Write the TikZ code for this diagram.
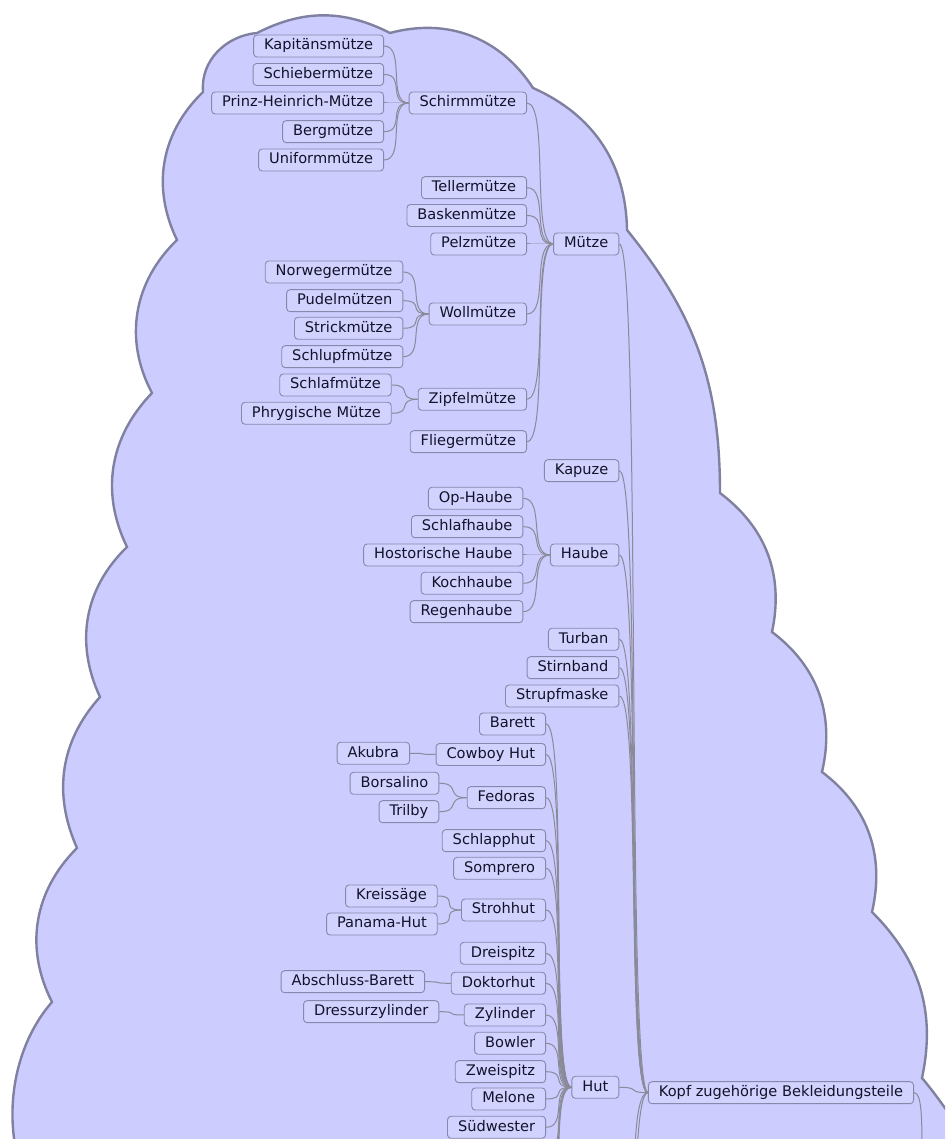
\documentclass[tikz,border=0pt]{standalone}
\usepackage{fontspec}
\setmainfont{DejaVu Sans}
\definecolor{cloudfill}{RGB}{204,204,255}
\definecolor{cloudline}{RGB}{128,128,160}
\definecolor{boxline}{RGB}{136,136,172}
\definecolor{boxfill}{RGB}{210,210,255}
\definecolor{ink}{RGB}{18,18,42}
\definecolor{linkgray}{RGB}{138,138,152}
\tikzset{
  item/.style={draw=boxline, fill=boxfill, rounded corners=3.5pt, line width=0.9pt,
    text=ink, font=\fontsize{14.6}{16}\selectfont, inner xsep=10.5pt, inner ysep=0pt,
    minimum height=22pt, text height=10.5pt, text depth=3pt, anchor=east},
  link/.style={draw=linkgray, line width=1pt},
  cloudpath/.style={fill=cloudfill, draw=cloudline, line width=2.4pt},
}
\begin{document}
\begin{tikzpicture}[x=1pt,y=1pt]
\useasboundingbox (0,0) rectangle (945,1139);
\clip (0,0) rectangle (945,1139);

% cloud around the whole branch
\path[cloudpath]
  (40,-70) to[out=124,in=229,looseness=0.9] (52,137)
  to[out=117,in=225] (77,291)
  to[out=114,in=228] (100,442)
  to[out=115,in=224] (127,592)
  to[out=116,in=226] (152,746)
  to[out=118,in=224] (177,899)
  to[out=116,in=224] (203,1047)
  to[out=95,in=185] (257,1106)
  to[out=27,in=153] (390,1106)
  to[out=15,in=123] (533,1051)
  to[out=-24,in=91] (627,909)
  to[out=-51,in=90] (720,646)
  to[out=-37,in=78] (772,507)
  to[out=-37,in=77] (822,367)
  to[out=-37,in=77] (872,227)
  to[out=-45,in=78] (922,61)
  to[out=-50,in=140] (990,-20)
  -- (990,-120) -- (30,-120) -- cycle;

% Schirmmütze branch
\node[item] (kapitaen) at (384,1093) {Kapitänsmütze};
\node[item] (schieber) at (384,1064.5) {Schiebermütze};
\node[item] (prinz) at (384,1036) {Prinz-Heinrich-Mütze};
\node[item] (berg) at (384,1007.3) {Bergmütze};
\node[item] (uniform) at (384,979) {Uniformmütze};
\node[item] (schirm) at (527,1036) {Schirmmütze};
% Mütze branch
\node[item] (teller) at (527,951.3) {Tellermütze};
\node[item] (basken) at (527,923.5) {Baskenmütze};
\node[item] (pelz) at (527,895) {Pelzmütze};
\node[item] (norweger) at (403.3,867) {Norwegermütze};
\node[item] (pudel) at (403.3,838.3) {Pudelmützen};
\node[item] (strick) at (403.3,810.7) {Strickmütze};
\node[item] (schlupf) at (403.3,782.3) {Schlupfmütze};
\node[item] (woll) at (527,825) {Wollmütze};
\node[item] (schlafm) at (391.7,754) {Schlafmütze};
\node[item] (phryg) at (391.7,725.7) {Phrygische Mütze};
\node[item] (zipfel) at (527,739.7) {Zipfelmütze};
\node[item] (flieger) at (527,697.3) {Fliegermütze};
\node[item] (muetze) at (619.3,895) {Mütze};
\node[item] (kapuze) at (619.3,668.3) {Kapuze};
% Haube branch
\node[item] (ophaube) at (523.3,640.7) {Op-Haube};
\node[item] (schlafhaube) at (523.3,612.3) {Schlafhaube};
\node[item] (histhaube) at (523.3,584) {Hostorische Haube};
\node[item] (koch) at (523.3,555.7) {Kochhaube};
\node[item] (regen) at (523.3,527.3) {Regenhaube};
\node[item] (haube) at (619.3,584) {Haube};
\node[item] (turban) at (619.3,499.7) {Turban};
\node[item] (stirn) at (619.3,471.3) {Stirnband};
\node[item] (strupf) at (619.3,443) {Strupfmaske};
% Hut branch
\node[item] (barett) at (546,415) {Barett};
\node[item] (akubra) at (410,385.7) {Akubra};
\node[item] (cowboy) at (546,384.5) {Cowboy Hut};
\node[item] (borsalino) at (439.3,355.7) {Borsalino};
\node[item] (trilby) at (439.3,327.3) {Trilby};
\node[item] (fedoras) at (546,341.3) {Fedoras};
\node[item] (schlapp) at (546,298.3) {Schlapphut};
\node[item] (somprero) at (546,270.7) {Somprero};
\node[item] (kreis) at (437.7,243) {Kreissäge};
\node[item] (panama) at (437.7,215) {Panama-Hut};
\node[item] (stroh) at (546,229) {Strohhut};
\node[item] (dreispitz) at (546,185.7) {Dreispitz};
\node[item] (abschluss) at (425,157.3) {Abschluss-Barett};
\node[item] (doktor) at (546,155.7) {Doktorhut};
\node[item] (dressur) at (439.3,127.3) {Dressurzylinder};
\node[item] (zylinder) at (546,124) {Zylinder};
\node[item] (bowler) at (546,95.7) {Bowler};
\node[item] (zweispitz) at (546,67.3) {Zweispitz};
\node[item] (melone) at (546,40) {Melone};
\node[item] (suedwester) at (546,11.7) {Südwester};
\node[item] (hut) at (619.3,51.7) {Hut};
\node[item] (kopf) at (914,46.3) {Kopf zugehörige Bekleidungsteile};

% ends of branches that continue below
\coordinate (hutmore1) at (546,-16.6);
\coordinate (hutmore2) at (546,-45);
\coordinate (hutmore3) at (546,-73.3);
\coordinate (kopfmore1) at (619.3,-120);
\coordinate (kopfmore2) at (619.3,-300);
\coordinate (kopfparent) at (922,-20);

% child-to-parent connectors
\foreach \c/\p in {kapitaen/schirm, schieber/schirm, prinz/schirm, berg/schirm, uniform/schirm,
  schirm/muetze, teller/muetze, basken/muetze, pelz/muetze, woll/muetze, zipfel/muetze, flieger/muetze,
  norweger/woll, pudel/woll, strick/woll, schlupf/woll, schlafm/zipfel, phryg/zipfel,
  ophaube/haube, schlafhaube/haube, histhaube/haube, koch/haube, regen/haube,
  muetze/kopf, kapuze/kopf, haube/kopf, turban/kopf, stirn/kopf, strupf/kopf, hut/kopf,
  barett/hut, cowboy/hut, fedoras/hut, schlapp/hut, somprero/hut, stroh/hut, dreispitz/hut,
  doktor/hut, zylinder/hut, bowler/hut, zweispitz/hut, melone/hut, suedwester/hut,
  akubra/cowboy, borsalino/fedoras, trilby/fedoras, kreis/stroh, panama/stroh,
  abschluss/doktor, dressur/zylinder}
  \draw[link] (\c.east) .. controls +(22,0) and +(-22,0) .. (\p.west);

\foreach \c in {hutmore1, hutmore2, hutmore3}
  \draw[link] (\c) .. controls +(22,0) and +(-22,0) .. (hut.west);
\foreach \c in {kopfmore1, kopfmore2}
  \draw[link] (\c) .. controls +(22,0) and +(-22,0) .. (kopf.west);
\draw[link] (kopf.east) .. controls +(8,0) and +(0,40) .. (kopfparent);
\end{tikzpicture}
\end{document}
